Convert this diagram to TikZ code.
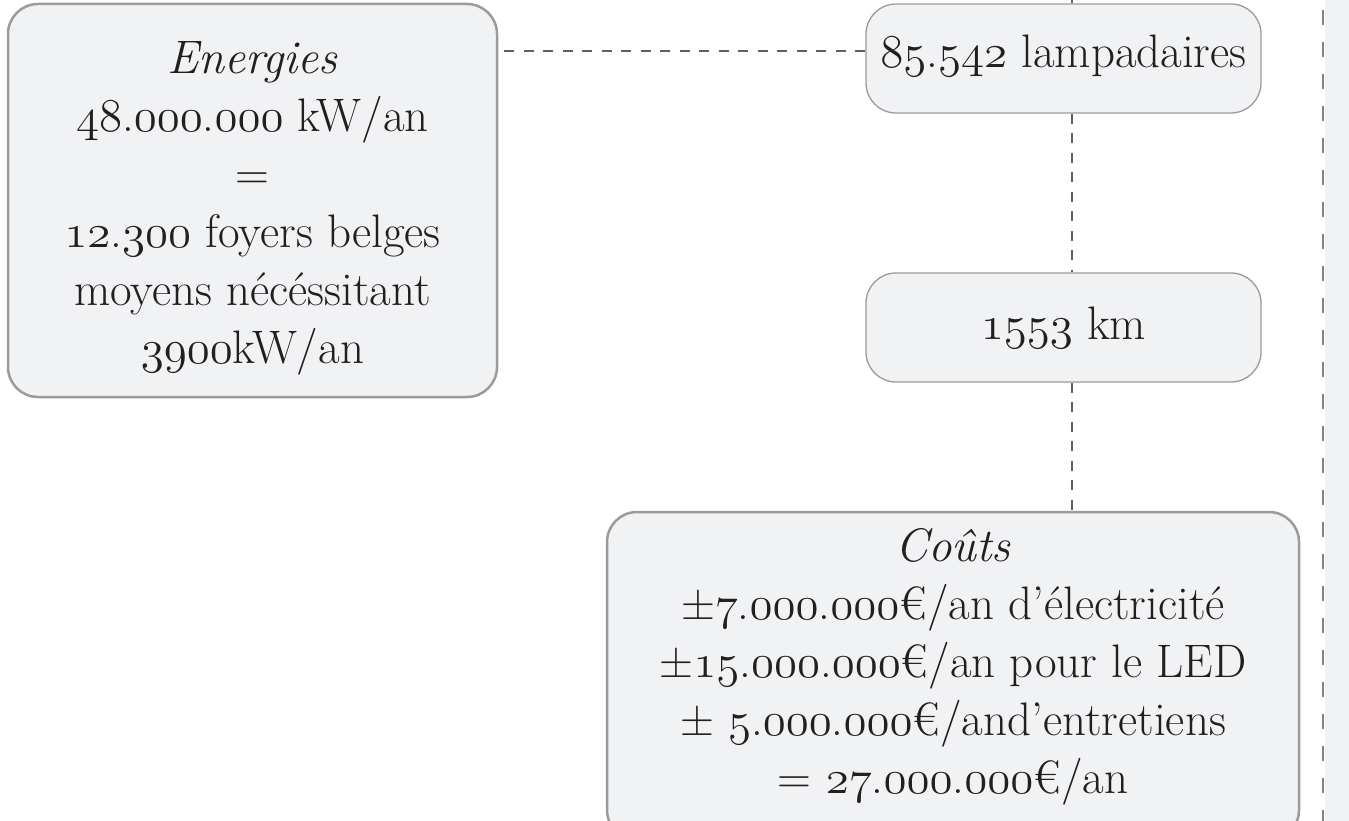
\RequirePackage{fix-cm}
\documentclass[tikz,border=0pt]{standalone}
\usetikzlibrary{calc}

\definecolor{boxfill}{RGB}{241,242,244}
\definecolor{boxline}{RGB}{155,155,155}
\definecolor{linkgray}{RGB}{95,95,95}
\definecolor{railgray}{RGB}{130,130,130}
\definecolor{inkblack}{RGB}{35,31,32}

% old style digits taken from the math italic font
\ExplSyntaxOn
\NewDocumentCommand \osf { m }
  {
    \tl_map_inline:nn {#1}
      {
        \str_if_in:nnTF { 0123456789 } {##1}
          { { \usefont{OML}{cmm}{m}{it} ##1 } }
          { ##1 }
      }
  }
\ExplSyntaxOff

\begin{document}
\begin{tikzpicture}[x=1pt, y=-1pt,
  every node/.style={font=\fontsize{47}{58}\selectfont, text=inkblack, align=center, inner sep=0pt},
  bigbox/.style={draw=boxline, line width=2.5pt, fill=boxfill, rounded corners=30pt},
  smallbox/.style={draw=boxline, line width=1.3pt, fill=boxfill, rounded corners=30pt, minimum width=395pt, minimum height=109pt},
  link/.style={draw=linkgray, line width=1.6pt, dash pattern=on 10pt off 9.5pt}]

\useasboundingbox (0,0) rectangle (1349,821);

% side panel
\fill[boxfill] (1325,-10) rectangle (1360,830);
\draw[railgray, line width=1.5pt, dash pattern=on 15pt off 17pt] (1323,10) -- (1323,830);

\node[bigbox, minimum width=489pt, minimum height=393pt,
  label={[yshift=-8pt]center:{\textit{Energies}\\ \osf{48.000.000} kW/an\\ =\\ \osf{12.300} foyers belges\\ moyens nécéssitant\\ \osf{3900}kW/an}}]
  (energ) at (252.5,200.5) {};

\node[smallbox, label={[yshift=3pt]center:{\osf{85.542} lampadaires}}] (lamp) at (1063.5,58.5) {};
\node[smallbox] (km) at (1063.5,327.5) {\osf{1553} km};

\node[bigbox, minimum width=692pt, minimum height=328pt,
  label={[yshift=9pt]center:{\textit{Coûts}\\ ±\osf{7.000.000}€/an d’électricité\\ ±\osf{15.000.000}€/an pour le LED\\ ± \osf{5.000.000}€/and’entretiens\\ = \osf{27.000.000}€/an}}]
  (couts) at (953,676) {};

\coordinate (topend) at (1072,-20);

\draw[link] (topend) -- (lamp.north -| topend);
\draw[link] (lamp.south -| topend) -- (km.north -| topend);
\draw[link] (km.south -| topend) -- (couts.north -| topend);
\draw[link] ([yshift=7.5pt]lamp.west) -- ([yshift=7.5pt]lamp.west -| energ.east);
\end{tikzpicture}
\end{document}
